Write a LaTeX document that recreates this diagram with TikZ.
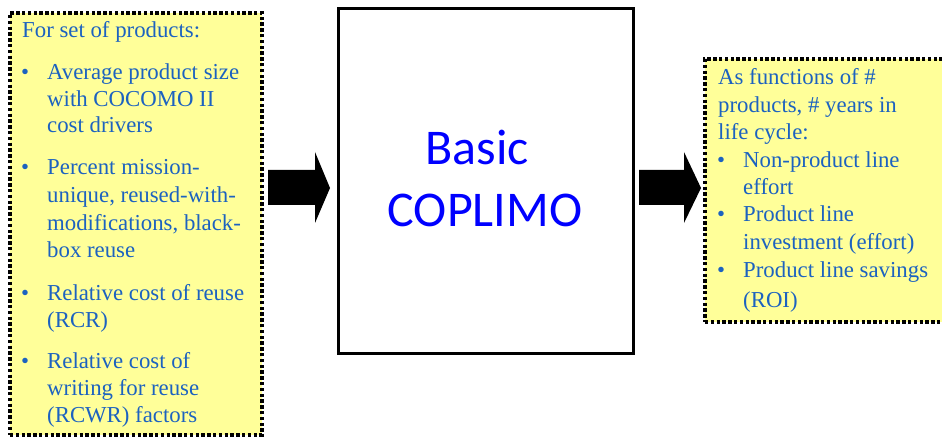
\documentclass[tikz,border=0pt]{standalone}
\usepackage{fontspec}
\setmainfont{Liberation Serif}
\newfontfamily\coreface{Carlito}
\definecolor{txtblue}{RGB}{28,98,192}
\definecolor{noteyellow}{RGB}{255,255,153}
\definecolor{coreblue}{RGB}{0,0,255}
\tikzset{
  note/.style={fill=noteyellow, draw=black, line width=3.4pt,
    dash pattern=on 3.4pt off 2.4pt, inner sep=0pt, outer sep=0pt},
  core/.style={draw=black, line width=3pt, fill=white, inner sep=0pt},
  ln/.style={anchor=base west, inner sep=0pt, text=txtblue,
    font=\fontsize{22.8}{27.5}\selectfont},
  bul/.style={ln},
  coretext/.style={anchor=base, inner sep=0pt, text=coreblue,
    font=\coreface\fontsize{50}{60}\selectfont},
  fat/.style={fill=black},
}
\begin{document}
\begin{tikzpicture}[x=1pt,y=-1pt]
\useasboundingbox (0,0) rectangle (942,438);
\clip (0,0) rectangle (942,438);

% input notes
\node[note, anchor=north west, minimum width=252pt, minimum height=422pt] (inputs) at (10,13) {};
% central model box
\node[core, anchor=north west, minimum width=295pt, minimum height=345pt] (model) at (337,7) {};
% output notes (runs off the right edge)
\node[note, anchor=north west, minimum width=260pt, minimum height=263pt] (outputs) at (705,59) {};

% block arrows
\fill[fat] (268,170) -- (315,170) -- (315,152) -- (330,188) -- (315,223) -- (315,205) -- (268,205) -- cycle;
\fill[fat] (639,170) -- (684,170) -- (684,152) -- (701,188) -- (684,223) -- (684,205) -- (639,205) -- cycle;

% model name
\node[coretext] (basic) at (477,165) {Basic};
\node[coretext] (coplimo) at (485,227) {COPLIMO};

% input list
\node[ln] (i0) at (22,38) {For set of products:};
\node[bul] (b1) at (21,80) {\textbullet};
\node[ln] (i1) at (47,80) {Average product size};
\node[ln] (i2) at (47,107) {with COCOMO II};
\node[ln] (i3) at (47,133) {cost drivers};
\node[bul] (b2) at (21,175) {\textbullet};
\node[ln] (i4) at (47,175) {Percent mission-};
\node[ln] (i5) at (47,203) {unique, reused-with-};
\node[ln] (i6) at (47,231) {modifications, black-};
\node[ln] (i7) at (47,258) {box reuse};
\node[bul] (b3) at (21,300) {\textbullet};
\node[ln] (i8) at (47,300) {Relative cost of reuse};
\node[ln] (i9) at (47,327) {(RCR)};
\node[bul] (b4) at (21,368) {\textbullet};
\node[ln] (i10) at (47,368) {Relative cost of};
\node[ln] (i11) at (47,395) {writing for reuse};
\node[ln] (i12) at (47,422) {(RCWR) factors};

% output list
\node[ln] (o0) at (718,85) {As functions of \#};
\node[ln] (o1) at (718,113) {products, \# years in};
\node[ln] (o2) at (718,140) {life cycle:};
\node[bul] (c1) at (717,168) {\textbullet};
\node[ln] (o3) at (743,168) {Non-product line};
\node[ln] (o4) at (743,195) {effort};
\node[bul] (c2) at (717,222) {\textbullet};
\node[ln] (o5) at (743,222) {Product line};
\node[ln] (o6) at (743,250) {investment (effort)};
\node[bul] (c3) at (717,278) {\textbullet};
\node[ln] (o7) at (743,278) {Product line savings};
\node[ln] (o8) at (743,307) {(ROI)};
\end{tikzpicture}
\end{document}
